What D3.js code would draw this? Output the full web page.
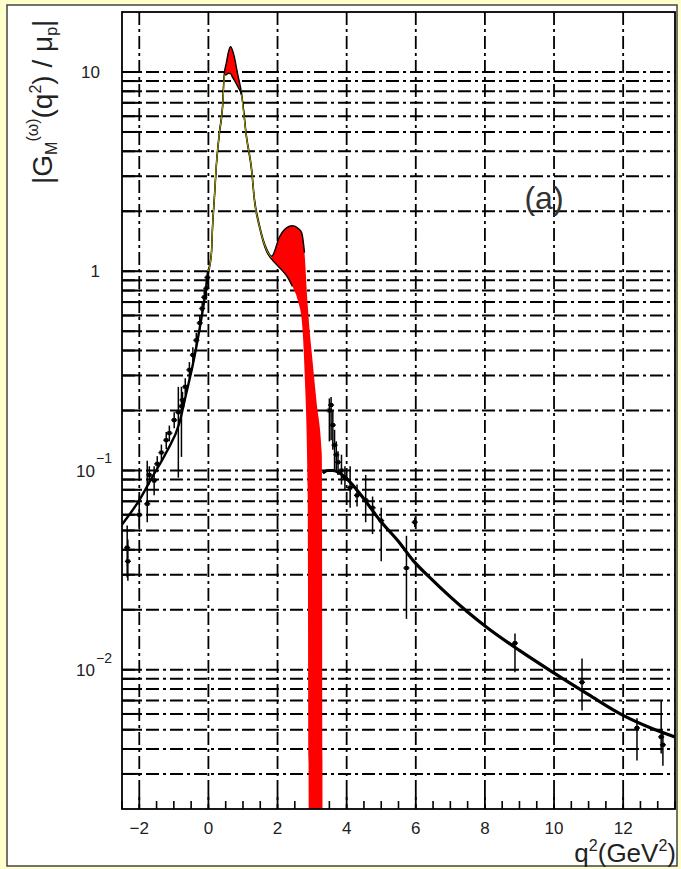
<!DOCTYPE html>
<html>
<head>
<meta charset="utf-8">
<script src="https://cdn.jsdelivr.net/npm/d3@7"></script>
<style>
  body { margin: 0; background: #ffffcc; }
  svg { display: block; font-family: "Liberation Sans", Arial, sans-serif; }
</style>
</head>
<body>
<div id="chart"></div>
<script>
// tick labels
const xTickVals = [-2, 0, 2, 4, 6, 8, 10, 12];
const yLabelVals = [10, 1, 0.1, 0.01];
const yLabelBase = ["10", "1", "10", "10"];
const yLabelExp = ["", "", "\u22121", "\u22122"];

// fit band (red) : q2, upper and lower edge
const bandQ2 = [0, 0.09, 0.12, 0.17, 0.23, 0.32, 0.41, 0.46, 0.52, 0.58, 0.64, 0.70, 0.75, 0.84, 0.96, 1.10, 1.25, 1.33, 1.48, 1.68, 1.83, 2.06, 2.26, 2.43, 2.60, 2.70, 2.78, 2.87, 2.93, 2.99, 3.13, 3.28, 3.31];
const bandHi = [1.02, 1.27, 1.70, 2.33, 3.45, 5.05, 6.8, 9.8, 11.1, 12.6, 13.4, 12.8, 11.9, 9.9, 7.8, 4.8, 3.28, 2.33, 1.70, 1.30, 1.19, 1.49, 1.65, 1.69, 1.64, 1.56, 1.24, 0.69, 0.50, 0.39, 0.22, 0.122, 0.0001];
const bandLo = [0.99, 1.23, 1.65, 2.26, 3.35, 4.9, 6.6, 9.6, 9.7, 9.85, 9.8, 9.4, 9.1, 8.5, 7.6, 4.68, 3.18, 2.26, 1.65, 1.26, 1.15, 1.04, 0.95, 0.84, 0.70, 0.57, 0.32, 0.083, 0.0001, 0.0001, 0.0001, 0.0001, 0.0001];

// fit curves outside the band
const spaceQ2 = [-2.52, -2.0, -1.62, -1.22, -0.84, -0.65, -0.45, -0.25, -0.1, 0];
const spaceFit = [0.053, 0.071, 0.093, 0.123, 0.173, 0.24, 0.34, 0.52, 0.75, 1.0];
const timeQ2 = [3.31, 3.45, 3.6, 3.8, 4.0, 4.5, 4.96, 5.5, 5.92, 6.5, 7.0, 7.5, 8.06, 9.0, 9.97, 11.0, 12.0, 12.8, 13.5];
const timeFit = [0.097, 0.1, 0.1, 0.097, 0.091, 0.072, 0.0563, 0.044, 0.0354, 0.028, 0.0232, 0.0195, 0.0163, 0.0125, 0.0097, 0.0075, 0.0059, 0.0051, 0.0046];

// data points with error bars
const ptQ2 = [-2.35, -2.33, -2.0, -1.77, -1.71, -1.57, -1.48, -1.36, -1.22, -1.13, -0.99, -0.87, -0.78, -0.75, -0.67, -0.55, -0.45, -0.35, -0.25, -0.18, -0.12, -0.06, -0.03,
  3.5, 3.55, 3.6, 3.65, 3.7, 3.75, 3.85, 3.95, 4.1, 4.3, 4.55, 4.75, 5.0, 5.73, 5.97, 8.87, 10.81, 12.4, 13.1, 13.15];
const ptVal = [0.041, 0.035, 0.060, 0.068, 0.095, 0.089, 0.108, 0.123, 0.142, 0.154, 0.179, 0.196, 0.21, 0.226, 0.263, 0.32, 0.38, 0.45, 0.55, 0.65, 0.74, 0.82, 0.93,
  0.20, 0.213, 0.169, 0.134, 0.12, 0.11, 0.10, 0.092, 0.082, 0.075, 0.071, 0.065, 0.056, 0.0324, 0.055, 0.0136, 0.00865, 0.0051, 0.0046, 0.0042];
const ptLo = [0.029, 0.028, 0.052, 0.055, 0.085, 0.075, 0.098, 0.112, 0.128, 0.14, 0.163, 0.092, 0.117, 0.205, 0.24, 0.29, 0.345, 0.41, 0.5, 0.6, 0.68, 0.72, 0.86,
  0.14, 0.142, 0.127, 0.10, 0.10, 0.095, 0.085, 0.08, 0.065, 0.066, 0.055, 0.048, 0.035, 0.018, 0.052, 0.0097, 0.00625, 0.0035, 0.0038, 0.0033];
const ptHi = [0.053, 0.045, 0.075, 0.112, 0.105, 0.105, 0.118, 0.135, 0.156, 0.168, 0.196, 0.263, 0.263, 0.248, 0.29, 0.35, 0.415, 0.49, 0.6, 0.7, 0.8, 0.9, 1.0,
  0.23, 0.234, 0.20, 0.16, 0.14, 0.125, 0.12, 0.105, 0.105, 0.085, 0.095, 0.074, 0.065, 0.047, 0.058, 0.0152, 0.0114, 0.0057, 0.0070, 0.0048];

const svgWidth = 681;
const svgHeight = 869;
const plot = { left: 122, right: 675, top: 12, bottom: 809 };

const svg = d3.select("#chart")
  .append("svg")
  .attr("width", svgWidth)
  .attr("height", svgHeight);

// white panel with border
svg.append("rect")
  .attr("x", 7).attr("y", 5)
  .attr("width", 670).attr("height", 861)
  .attr("fill", "white")
  .attr("stroke", "#444")
  .attr("stroke-width", 1.5);

const xScale = d3.scaleLinear().domain([-2.5, 13.5]).range([plot.left, plot.right]);
const yScale = d3.scaleLog().domain([0.002, 20]).range([plot.bottom, plot.top]);

svg.append("clipPath").attr("id", "clip")
  .append("rect")
  .attr("x", plot.left).attr("y", plot.top)
  .attr("width", plot.right - plot.left).attr("height", plot.bottom - plot.top);

const dashes = "13,4,3,4";

// grid, vertical
svg.append("g").selectAll("line")
  .data(xTickVals)
  .enter().append("line")
  .attr("x1", d => xScale(d)).attr("x2", d => xScale(d))
  .attr("y1", plot.top).attr("y2", plot.bottom)
  .attr("stroke", "black")
  .attr("stroke-width", 1.8)
  .attr("stroke-dasharray", dashes);

// grid, horizontal at every log tick
const yGridVals = yScale.ticks().filter(v => v > 0.0021 && v < 19.9);
svg.append("g").selectAll("line")
  .data(yGridVals)
  .enter().append("line")
  .attr("x1", plot.left).attr("x2", plot.right)
  .attr("y1", d => yScale(d)).attr("y2", d => yScale(d))
  .attr("stroke", "black")
  .attr("stroke-width", 2)
  .attr("stroke-dasharray", dashes);

// left ticks
svg.append("g").selectAll("line")
  .data(yGridVals)
  .enter().append("line")
  .attr("x1", plot.left).attr("x2", plot.left + 18)
  .attr("y1", d => yScale(d)).attr("y2", d => yScale(d))
  .attr("stroke", "black")
  .attr("stroke-width", 2);

// bottom ticks
const xMinor = d3.range(-2.5, 13.51, 0.5).filter(v => !xTickVals.includes(v));
svg.append("g").selectAll("line")
  .data(xMinor)
  .enter().append("line")
  .attr("x1", d => xScale(d)).attr("x2", d => xScale(d))
  .attr("y1", plot.bottom).attr("y2", plot.bottom - 8)
  .attr("stroke", "black")
  .attr("stroke-width", 1.6);
svg.append("g").selectAll("line")
  .data(xTickVals)
  .enter().append("line")
  .attr("x1", d => xScale(d)).attr("x2", d => xScale(d))
  .attr("y1", plot.bottom).attr("y2", plot.bottom - 16)
  .attr("stroke", "black")
  .attr("stroke-width", 1.8);

const chart = svg.append("g").attr("clip-path", "url(#clip)");

// band
const band = bandQ2.map((q, i) => ({ q: q, hi: bandHi[i], lo: bandLo[i] }));

chart.append("path")
  .datum(band)
  .attr("fill", "#ff0000")
  .attr("d", d3.area()
    .x(d => xScale(d.q))
    .y0(d => yScale(d.lo))
    .y1(d => yScale(d.hi))
    .curve(d3.curveMonotoneX));

chart.append("path")
  .datum(band)
  .attr("fill", "none")
  .attr("stroke", "black")
  .attr("stroke-width", 1.4)
  .attr("d", d3.line()
    .defined(d => d.q <= 2.8)
    .x(d => xScale(d.q))
    .y(d => yScale(d.hi))
    .curve(d3.curveMonotoneX));

chart.append("path")
  .datum(band)
  .attr("fill", "none")
  .attr("stroke", "black")
  .attr("stroke-width", 1.4)
  .attr("d", d3.line()
    .defined(d => d.q <= 2.45)
    .x(d => xScale(d.q))
    .y(d => yScale(d.lo))
    .curve(d3.curveMonotoneX));

// yellow centre where the band is thin
chart.append("path")
  .datum(band)
  .attr("fill", "none")
  .attr("stroke", "#d8d000")
  .attr("stroke-width", 0.8)
  .attr("d", d3.line()
    .defined(d => d.q <= 0.46 || (d.q >= 0.96 && d.q <= 1.83))
    .x(d => xScale(d.q))
    .y(d => yScale(Math.sqrt(d.hi * d.lo)))
    .curve(d3.curveMonotoneX));

// fit lines
chart.append("path")
  .datum(spaceQ2.map((q, i) => [q, spaceFit[i]]))
  .attr("fill", "none")
  .attr("stroke", "black")
  .attr("stroke-width", 2.4)
  .attr("d", d3.line().x(d => xScale(d[0])).y(d => yScale(d[1])).curve(d3.curveMonotoneX));

chart.append("path")
  .datum(timeQ2.map((q, i) => [q, timeFit[i]]))
  .attr("fill", "none")
  .attr("stroke", "black")
  .attr("stroke-width", 3.2)
  .attr("d", d3.line().x(d => xScale(d[0])).y(d => yScale(d[1])).curve(d3.curveMonotoneX));

// data points
const points = ptQ2.map((q, i) => ({ q: q, v: ptVal[i], lo: ptLo[i], hi: ptHi[i] }));
const pts = chart.selectAll(".pt")
  .data(points)
  .enter().append("g")
  .attr("class", "pt");

pts.append("line")
  .attr("x1", d => xScale(d.q)).attr("x2", d => xScale(d.q))
  .attr("y1", d => yScale(d.lo)).attr("y2", d => yScale(d.hi))
  .attr("stroke", "black")
  .attr("stroke-width", 1.5);

pts.append("line")
  .attr("x1", d => xScale(d.q) - 3).attr("x2", d => xScale(d.q) + 3)
  .attr("y1", d => yScale(d.v)).attr("y2", d => yScale(d.v))
  .attr("stroke", "black")
  .attr("stroke-width", 1.5);

pts.append("rect")
  .attr("x", d => xScale(d.q) - 2)
  .attr("y", d => yScale(d.v) - 2)
  .attr("width", 4).attr("height", 4)
  .attr("fill", "black");

// frame
svg.append("rect")
  .attr("x", plot.left).attr("y", plot.top)
  .attr("width", plot.right - plot.left).attr("height", plot.bottom - plot.top)
  .attr("fill", "none")
  .attr("stroke", "black")
  .attr("stroke-width", 1.8);

// x tick labels
svg.append("g").selectAll("text")
  .data(xTickVals)
  .enter().append("text")
  .attr("x", d => xScale(d))
  .attr("y", 834)
  .attr("text-anchor", "middle")
  .attr("font-size", "17px")
  .attr("fill", "#222")
  .text(d => d < 0 ? "\u2212" + Math.abs(d) : d);

// y tick labels
yLabelVals.forEach((v, i) => {
  const yy = yScale(v);
  if (yLabelExp[i] === "") {
    svg.append("text")
      .attr("x", 100).attr("y", yy + 6)
      .attr("text-anchor", "end")
      .attr("font-size", "17px")
      .attr("fill", "#222")
      .text(yLabelBase[i]);
  } else {
    svg.append("text")
      .attr("x", 95).attr("y", yy + 6.5)
      .attr("text-anchor", "end")
      .attr("font-size", "17px")
      .attr("fill", "#222")
      .text(yLabelBase[i]);
    svg.append("text")
      .attr("x", 96).attr("y", yy - 7)
      .attr("font-size", "14px")
      .attr("fill", "#222")
      .text(yLabelExp[i]);
  }
});

// axis titles
const xTitle = svg.append("text")
  .attr("x", 676).attr("y", 862)
  .attr("text-anchor", "end")
  .attr("font-size", "26px")
  .attr("fill", "#222");
xTitle.append("tspan").text("q");
xTitle.append("tspan").attr("dy", -11).attr("font-size", "16px").text("2");
xTitle.append("tspan").attr("dy", 11).text("(GeV");
xTitle.append("tspan").attr("dy", -11).attr("font-size", "16px").text("2");
xTitle.append("tspan").attr("dy", 11).text(")");

const yTitle = svg.append("text")
  .attr("transform", "translate(52, 184) rotate(-90)")
  .attr("font-size", "28px")
  .attr("fill", "#222");
yTitle.append("tspan").text("|G");
yTitle.append("tspan").attr("dy", 5).attr("font-size", "16px").text("M");
yTitle.append("tspan").attr("dy", -19).attr("font-size", "16px").text("(\u03c9)");
yTitle.append("tspan").attr("dy", 14).text("(q");
yTitle.append("tspan").attr("dy", -11).attr("font-size", "16px").text("2");
yTitle.append("tspan").attr("dy", 11).text(") / \u03bc");
yTitle.append("tspan").attr("dy", 5).attr("font-size", "16px").text("p");
yTitle.append("tspan").attr("dy", -5).text("|");

// panel label
svg.append("text")
  .attr("x", 544).attr("y", 209)
  .attr("text-anchor", "middle")
  .attr("font-size", "32px")
  .attr("fill", "#333")
  .text("(a)");
</script>
</body>
</html>
